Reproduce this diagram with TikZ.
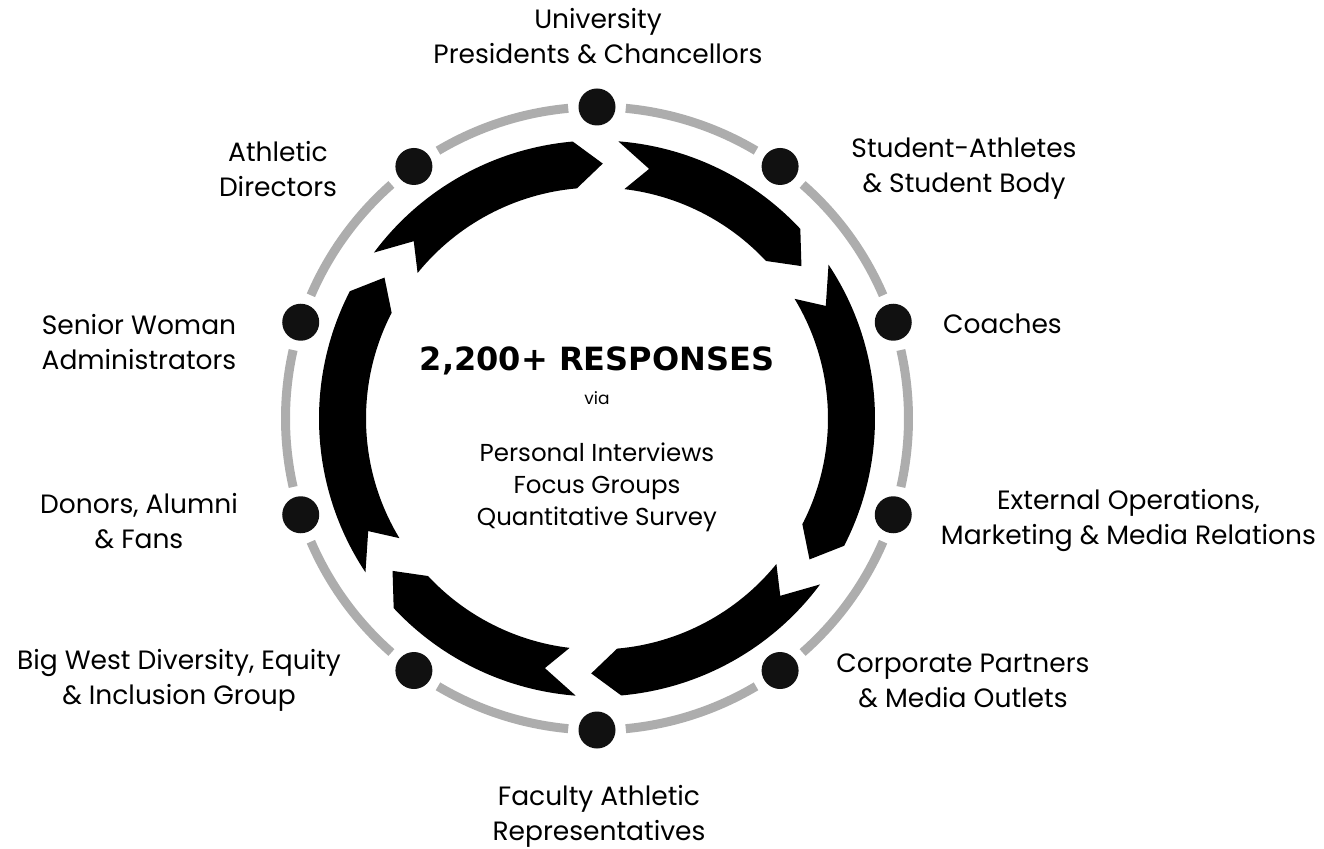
\documentclass[tikz,border=0pt]{standalone}
\usepackage{fontspec}
\setmainfont{Poppins}
\newfontfamily\titlefont{DejaVu Sans}
\definecolor{ringgray}{HTML}{ADADAD}
\definecolor{dotblack}{HTML}{111111}
\tikzset{
  dot/.style={circle, fill=dotblack, minimum size=37pt, inner sep=0pt},
  ring/.style={ringgray, line width=9pt},
  lbl/.style={align=center, inner sep=0pt, font=\fontsize{26.5}{35}\selectfont},
}
\def\Rout{278pt}
\def\Rin{231pt}
\def\Rmid{255pt}
\def\Rring{311.5pt}

\begin{document}
\begin{tikzpicture}[x=1pt,y=1pt]
\useasboundingbox (-597,-429.5) rectangle (727,418.5);
% grey ring, broken at every dot
\foreach \i in {0,...,9} {
  \pgfmathsetmacro\ringang{90-36*\i}
  \draw[ring] ({\ringang-5.3}:\Rring) arc[start angle=\ringang-5.3, end angle=\ringang-30.7, radius=\Rring];
}
% black arrows, clockwise
\foreach \prevhead/\headang in {95/43, 43/-27.25, -27.25/-85, -85/-137, -137/-207.25, 152.75/95} {
  \pgfmathsetmacro\tailang{\prevhead-9.4}
  \fill ({\tailang}:\Rout) arc[start angle=\tailang, end angle=\headang, radius=\Rout]
    -- ({\headang-6.3}:\Rmid) -- ({\headang}:\Rin)
    arc[start angle=\headang, end angle=\tailang-2.4, radius=\Rin]
    -- ({\tailang-7.4}:\Rmid) -- cycle;
}
% dots
\foreach \i in {0,...,9}
  \node[dot] (d\i) at ({90-36*\i}:\Rring) {};
% labels
\node[lbl] (pres) at (1,382.5) {University\\Presidents \& Chancellors};
\node[lbl] (stud) at (367,249.5) {Student-Athletes\\\& Student Body};
\node[lbl] (coach) at (405.5,94.5) {Coaches};
\node[lbl] (extops) at (531.5,-101.5) {External Operations,\\Marketing \& Media Relations};
\node[lbl] (corp) at (366,-262.5) {Corporate Partners\\\& Media Outlets};
\node[lbl] (fac) at (2,-397.5) {Faculty Athletic\\Representatives};
\node[lbl] (bigwest) at (-418,-262) {Big West Diversity, Equity\\\& Inclusion Group};
\node[lbl] (donors) at (-458,-103) {Donors, Alumni\\\& Fans};
\node[lbl] (swa) at (-458,76.5) {Senior Woman\\Administrators};
\node[lbl] (ad) at (-319,249.5) {Athletic\\Directors};
% centre text
\node[inner sep=0pt, font=\titlefont\bfseries\fontsize{32}{38}\selectfont] (title) at (0,58) {2,200+ RESPONSES};
\node[inner sep=0pt, anchor=base, font=\fontsize{17}{20}\selectfont] (via) at (0,13.5) {via};
\node[lbl, font=\fontsize{24.5}{32}\selectfont] (methods) at (0,-68.5) {Personal Interviews\\Focus Groups\\Quantitative Survey};
\end{tikzpicture}
\end{document}
